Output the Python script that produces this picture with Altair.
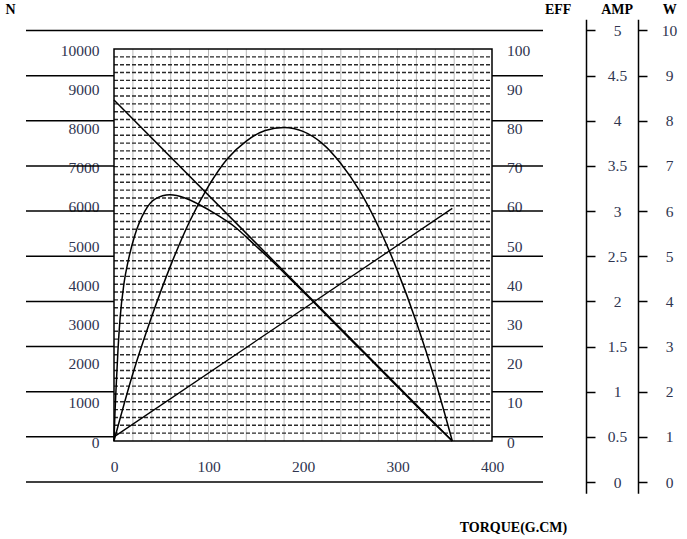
import altair as alt
import pandas as pd

# ---- axis tick values ----
torque_ticks = [0, 100, 200, 300, 400]
n_ticks = list(range(0, 10001, 1000))
eff_ticks = list(range(0, 101, 10))
amp_ticks = [0, 0.5, 1, 1.5, 2, 2.5, 3, 3.5, 4, 4.5, 5]
w_ticks = list(range(0, 11))
grid_torque = list(range(20, 400, 20))
grid_n = list(range(200, 10000, 200))

# ---- curves ----
speed_T = [0, 358]
speed_N = [8700, 0]

amp_T = [0, 358]
amp_I = [0.5, 3.03]

eff_T = [0, 1.0, 2.1, 4.2, 6.3, 10.6, 14.8, 22.2, 32.8, 43.4, 59.3, 75.1, 91.0,
         106.9, 128.0, 149.0, 170, 190, 210, 235, 260, 285, 310, 335, 358]
eff_E = [0, 7.0, 13.0, 23.2, 30.9, 40.3, 45.7, 52.6, 58.7, 61.7, 62.8, 62.0, 60.2,
         58.0, 54.6, 50.0, 45.3, 40.5, 35.7, 29.6, 23.55, 17.5, 11.4, 5.35, 0]

pow_T = [0, 20, 40, 60, 80, 100, 120, 140, 160, 180, 200, 220, 240, 260, 280,
         300, 320, 340, 358]
pow_P = [0, 1.72, 3.18, 4.48, 5.6, 6.5, 7.2, 7.65, 7.92, 8.0, 7.9, 7.6, 7.08,
         6.38, 5.46, 4.34, 3.03, 1.53, 0]

W_PLOT, H_PLOT = 378, 392
LBL_FONT = "Liberation Serif"
LBL_COLOR = "#2f3550"
TTL_FONT = "Liberation Serif"

X = alt.Scale(domain=[0, 400], nice=False, zero=False)
N_scale = alt.Scale(domain=[0, 10000], range=[H_PLOT, 0], nice=False, zero=False)
EFF_scale = alt.Scale(domain=[0, 100], range=[H_PLOT, 0], nice=False, zero=False)
AMP_scale = alt.Scale(domain=[-0.125, 5.124], range=[444.3, -29.7], nice=False, zero=False)
W_scale = alt.Scale(domain=[-0.25, 10.248], range=[444.3, -29.7], nice=False, zero=False)
P_scale = alt.Scale(domain=[0, 10], range=[H_PLOT, 0], nice=False, zero=False)

common_lbl = dict(labelFont=LBL_FONT, labelFontSize=15.5, labelColor=LBL_COLOR,
                  labelFlush=False, labelOverlap=False, grid=False,
                  titleFont=TTL_FONT, titleFontSize=14, titleFontWeight="bold",
                  titleColor="black", titleAngle=0, titleAlign="center",
                  titleBaseline="middle")

x_axis = alt.Axis(orient="bottom", values=torque_ticks, ticks=False, tickSize=0,
                  domain=False, labelPadding=25.7, labelBaseline="middle", format="d",
                  title="TORQUE(G.CM)", titleX=399, titleY=86, **common_lbl)

n_axis = alt.Axis(orient="left", values=n_ticks, ticks=False, tickSize=0, domain=False,
                  labelPadding=15, labelAlign="right", labelBaseline="middle", format="d",
                  labelOffset=1, title="N", titleX=-104, titleY=-39.7, **common_lbl)

eff_axis = alt.Axis(orient="right", values=eff_ticks, ticks=False, tickSize=0,
                    domain=False, labelPadding=14.5, labelAlign="left", format="d",
                    labelBaseline="middle", labelOffset=1, title="EFF",
                    titleX=65.7, titleY=-39.7, **common_lbl)

amp_axis = alt.Axis(orient="right", offset=94, values=amp_ticks, ticks=True, tickSize=9,
                    tickColor="black", tickWidth=1.5, domain=True, domainColor="black",
                    domainWidth=1.5, labelPadding=22, labelAlign="center", format="~g",
                    labelBaseline="middle", title="AMP", titleX=30.7, titleY=-39.7,
                    **common_lbl)

w_axis = alt.Axis(orient="right", offset=146, values=w_ticks, ticks=True, tickSize=9,
                  tickColor="black", tickWidth=1.5, domain=True, domainColor="black",
                  domainWidth=1.5, labelPadding=22, labelAlign="center", format="d",
                  labelBaseline="middle", title="W", titleX=31.3, titleY=-39.7,
                  **common_lbl)

df_w = pd.DataFrame({"w": w_ticks})
df_vg = pd.DataFrame({"T": grid_torque})
df_hg = pd.DataFrame({"N": grid_n})
df_speed = pd.DataFrame({"T": speed_T, "N": speed_N})
df_amp = pd.DataFrame({"T": amp_T, "I": amp_I})
df_eff = pd.DataFrame({"T": eff_T, "E": eff_E})
df_pow = pd.DataFrame({"T": pow_T, "P": pow_P})
df_one = pd.DataFrame({"a": [0]})

long_rules = alt.Chart(df_w).mark_rule(color="black", strokeWidth=1.5).encode(
    y=alt.Y("w:Q", scale=W_scale, axis=w_axis),
    x=alt.value(-88), x2=alt.value(429))

box = alt.Chart(df_one).mark_rect(fill="white").encode(
    x=alt.value(0), x2=alt.value(W_PLOT), y=alt.value(0), y2=alt.value(H_PLOT))

vgrid = alt.Chart(df_vg).mark_rule(color="#b8b8b8", strokeWidth=1).encode(
    x=alt.X("T:Q", scale=X, axis=x_axis), y=alt.value(0), y2=alt.value(H_PLOT))

hgrid = alt.Chart(df_hg).mark_rule(color="#2a2a2a", strokeWidth=1.4, strokeDash=[4, 2]).encode(
    y=alt.Y("N:Q", scale=N_scale, axis=None), x=alt.value(0), x2=alt.value(W_PLOT))

power = alt.Chart(df_pow).mark_line(color="black", strokeWidth=1.5, interpolate="monotone").encode(
    x=alt.X("T:Q", scale=X, axis=x_axis), y=alt.Y("P:Q", scale=P_scale, axis=None))

eff = alt.Chart(df_eff).mark_line(color="black", strokeWidth=1.5, interpolate="monotone").encode(
    x=alt.X("T:Q", scale=X, axis=x_axis), y=alt.Y("E:Q", scale=EFF_scale, axis=eff_axis))

speed = alt.Chart(df_speed).mark_line(color="black", strokeWidth=1.5).encode(
    x=alt.X("T:Q", scale=X, axis=x_axis), y=alt.Y("N:Q", scale=N_scale, axis=n_axis))

current = alt.Chart(df_amp).mark_line(color="black", strokeWidth=1.3).encode(
    x=alt.X("T:Q", scale=X, axis=x_axis), y=alt.Y("I:Q", scale=AMP_scale, axis=amp_axis))

border = alt.Chart(df_one).mark_rect(fillOpacity=0, stroke="black", strokeWidth=1.5).encode(
    x=alt.value(0), x2=alt.value(W_PLOT), y=alt.value(0), y2=alt.value(H_PLOT))

chart = alt.layer(long_rules, box, vgrid, hgrid, power, eff, speed, current, border).resolve_scale(
    y="independent"
).properties(
    width=W_PLOT, height=H_PLOT,
    autosize=alt.AutoSizeParams(type="none"),
    padding={"left": 114, "top": 49, "right": 195, "bottom": 98},
    background="white",
).configure_view(stroke="transparent")

chart.save("out.html", embed_options={"renderer": "svg", "actions": False})
